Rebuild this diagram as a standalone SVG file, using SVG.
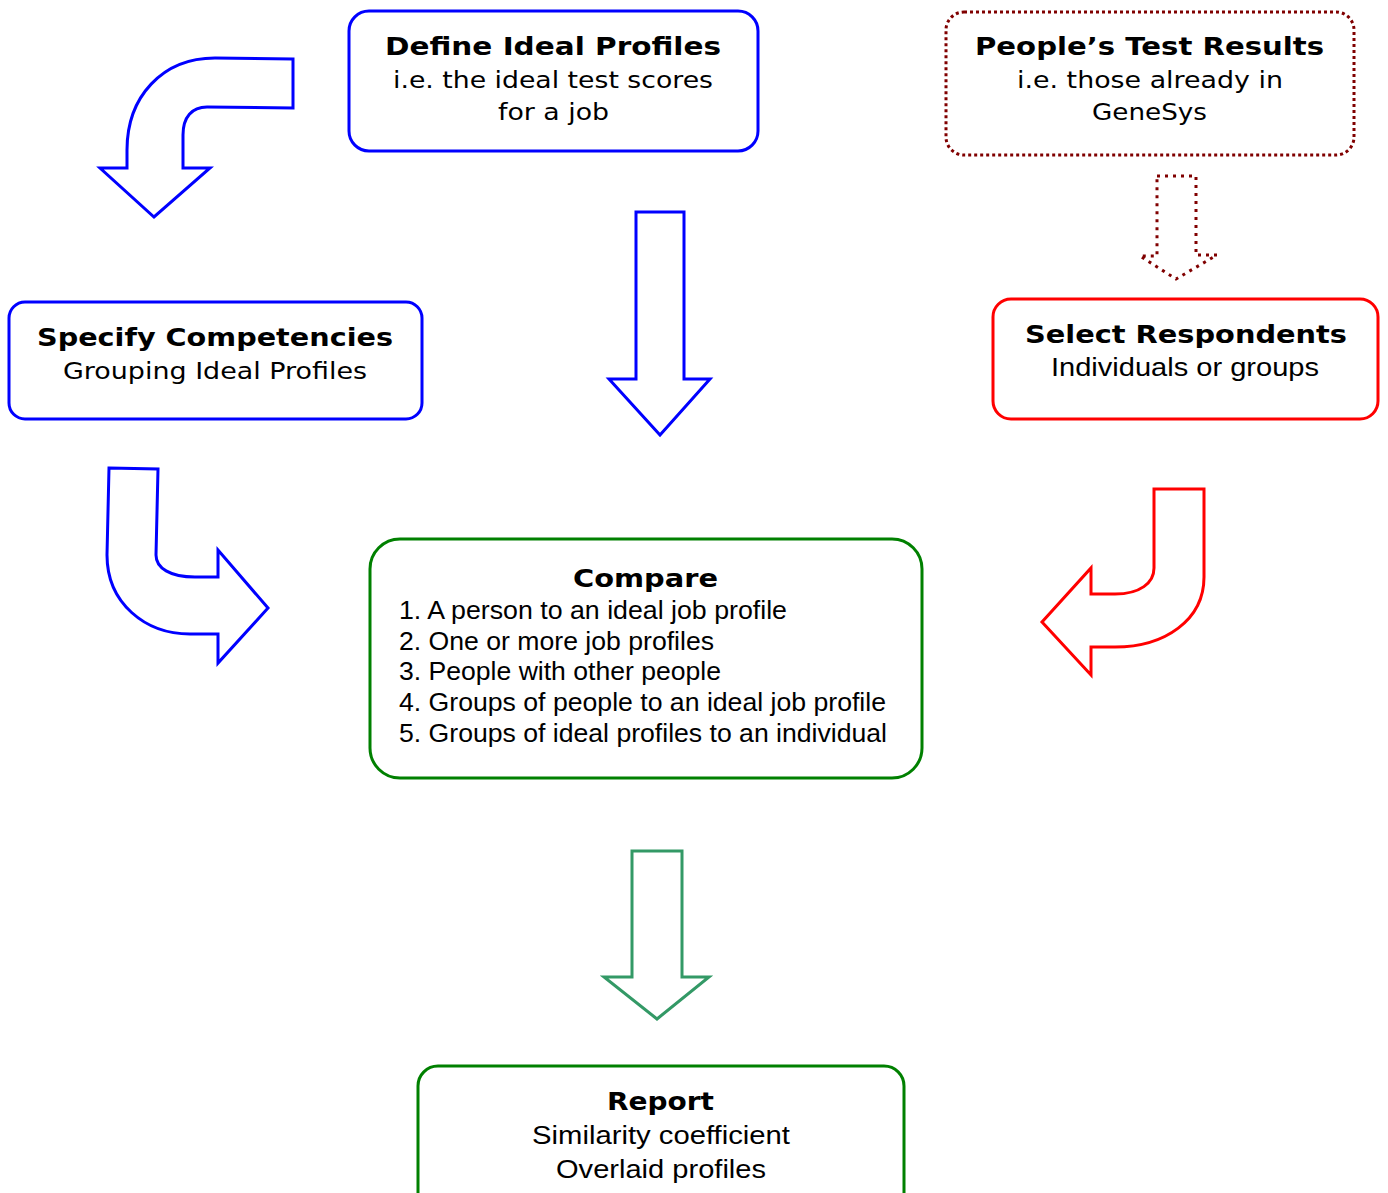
<svg xmlns="http://www.w3.org/2000/svg" width="1388" height="1193" viewBox="0 0 1388 1193">
<style>
.box{fill:#fff;stroke-width:3}
.blue{stroke:#0000ff}
.red{stroke:#ff0000}
.green{stroke:#008000}
.dot{stroke:#800000;stroke-dasharray:3 3}
.arrow{fill:#fff;stroke-width:3;stroke-linejoin:miter}
.t{font-family:"DejaVu Sans",Verdana,sans-serif;font-weight:bold;font-size:25px;fill:#000}
.s{font-family:"DejaVu Sans",Verdana,sans-serif;font-size:23.5px;fill:#000}
.a{font-family:"Liberation Sans",Arial,sans-serif;font-size:25px;fill:#000}
</style>
<rect width="1388" height="1193" fill="#fff"/>
<g id="connectors">
<path class="arrow" stroke="#0000ff" d="M293,59 L215,58 C162,58 127,97 127,150 L127,168 L100,168 L154,217 L210,168 L183,168 L183,135 C183,117 192,107 207,107 L293,108 Z"/>
<path class="arrow" stroke="#0000ff" d="M109,468 L158,469 L156,555 C156,568 170,577 195,577 L218,577 L218,550 L268,608 L218,663 L218,634 L190,634 C145,634 107,603 107,555 Z"/>
<path class="arrow" stroke="#ff0000" d="M1154,489 L1204,489 L1204,577 C1204,620 1165,647 1115,647 L1091,647 L1091,675 L1042,622 L1091,568 L1091,594 L1115,594 C1140,594 1154,583 1154,568 Z"/>
<path class="arrow" stroke="#0000ff" d="M636,212 L684,212 L684,379 L710,379 L660,435 L609,379 L636,379 Z"/>
<path class="arrow" stroke="#339966" d="M632,851 L682,851 L682,977 L709,977 L657,1019 L604,977 L632,977 Z"/>
<path class="arrow" stroke="#800000" stroke-dasharray="3 5" d="M1157,176 L1196,176 L1196,255 L1217,255 L1176,279 L1140,256 L1157,256 Z"/>
</g>
<g id="define">
<rect class="box blue" x="349" y="11" width="409" height="140" rx="20"/>
<text class="t" x="385" y="55" textLength="336" lengthAdjust="spacingAndGlyphs">Define Ideal Profiles</text>
<text class="s" x="393" y="88" textLength="320" lengthAdjust="spacingAndGlyphs">i.e. the ideal test scores</text>
<text class="s" x="498" y="120" textLength="111" lengthAdjust="spacingAndGlyphs">for a job</text>
</g>
<g id="people">
<rect class="box dot" x="946" y="12" width="408" height="143" rx="18"/>
<text class="t" x="975" y="55" textLength="349" lengthAdjust="spacingAndGlyphs">People’s Test Results</text>
<text class="s" x="1017" y="88" textLength="266" lengthAdjust="spacingAndGlyphs">i.e. those already in</text>
<text class="s" x="1092" y="120" textLength="115" lengthAdjust="spacingAndGlyphs">GeneSys</text>
</g>
<g id="specify">
<rect class="box blue" x="9" y="302" width="413" height="117" rx="16"/>
<text class="t" x="37" y="346" textLength="356" lengthAdjust="spacingAndGlyphs">Specify Competencies</text>
<text class="s" x="63" y="379" textLength="304" lengthAdjust="spacingAndGlyphs">Grouping Ideal Profiles</text>
</g>
<g id="select">
<rect class="box red" x="993" y="299" width="385" height="120" rx="18"/>
<text class="t" x="1025" y="343" textLength="322" lengthAdjust="spacingAndGlyphs">Select Respondents</text>
<text class="a" x="1051" y="376" textLength="268" lengthAdjust="spacingAndGlyphs">Individuals or groups</text>
</g>
<g id="compare">
<rect class="box green" x="370" y="539" width="552" height="239" rx="30"/>
<text class="t" x="573" y="587" textLength="145" lengthAdjust="spacingAndGlyphs">Compare</text>
<text class="a" x="399" y="619" textLength="388" lengthAdjust="spacingAndGlyphs">1. A person to an ideal job profile</text>
<text class="a" x="399" y="650" textLength="315" lengthAdjust="spacingAndGlyphs">2. One or more job profiles</text>
<text class="a" x="399" y="680" textLength="322" lengthAdjust="spacingAndGlyphs">3. People with other people</text>
<text class="a" x="399" y="711" textLength="487" lengthAdjust="spacingAndGlyphs">4. Groups of people to an ideal job profile</text>
<text class="a" x="399" y="742" textLength="488" lengthAdjust="spacingAndGlyphs">5. Groups of ideal profiles to an individual</text>
</g>
<g id="report">
<rect class="box green" x="418" y="1066" width="486" height="150" rx="20"/>
<text class="t" x="607" y="1110" textLength="107" lengthAdjust="spacingAndGlyphs">Report</text>
<text class="a" x="532" y="1144" textLength="258" lengthAdjust="spacingAndGlyphs">Similarity coefficient</text>
<text class="a" x="556" y="1178" textLength="210" lengthAdjust="spacingAndGlyphs">Overlaid profiles</text>
</g>
</svg>
